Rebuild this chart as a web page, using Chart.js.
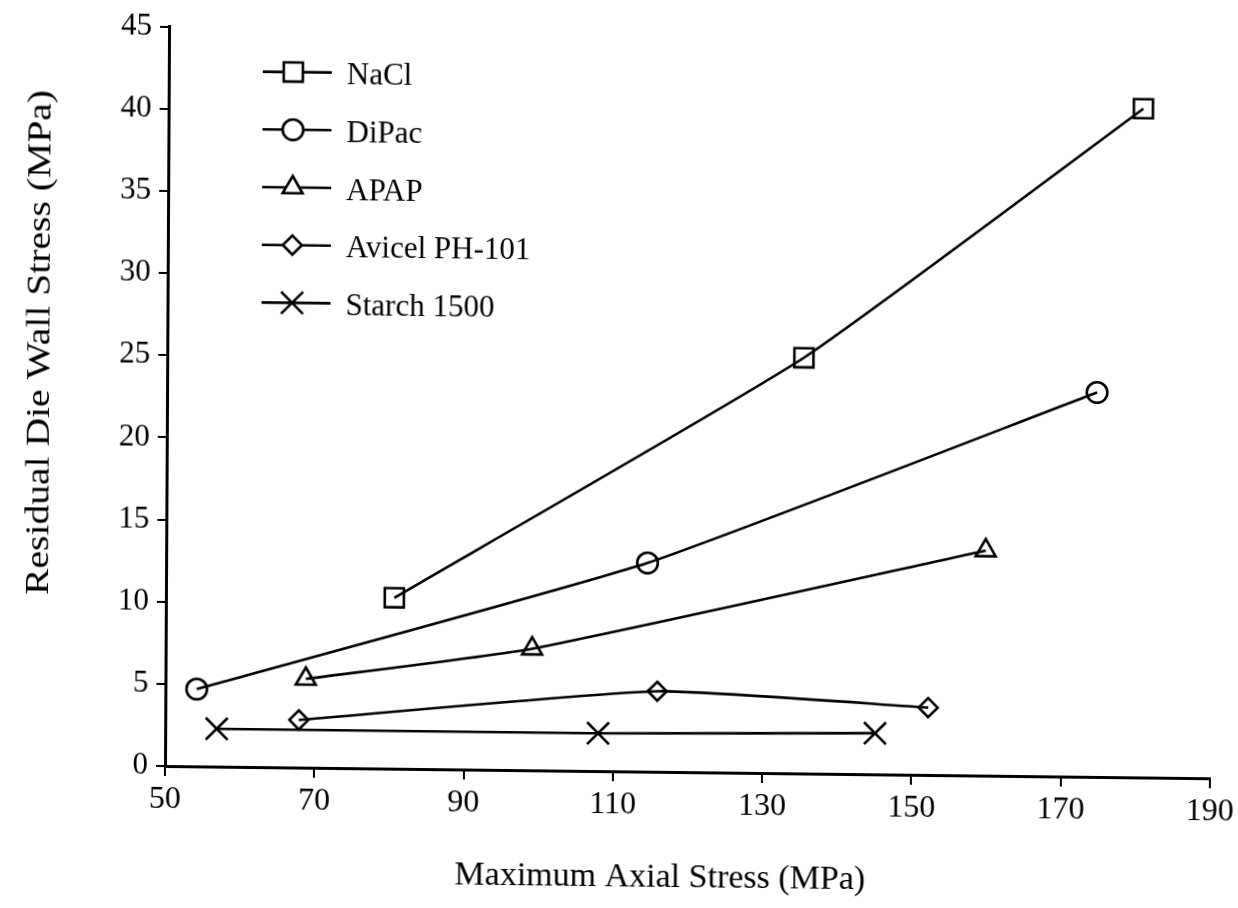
<!DOCTYPE html>
<html>
<head>
<meta charset="utf-8">
<title>Residual Die Wall Stress</title>
<script src="https://cdn.jsdelivr.net/npm/chart.js@4.4.1/dist/chart.umd.min.js"></script>
<style>
    html, body { margin: 0; padding: 0; background: #fff; }
    #wrap {
        position: relative;
        width: 1238px;
        height: 908px;
        /* the printed figure sits slightly askew on the page */
        transform-origin: 165px 766px;
        transform: matrix(1, 0.01175, -0.0055, 1, 0, 0);
    }
    canvas { display: block; }
</style>
</head>
<body>
<div id="wrap"><canvas id="chart" width="1238" height="908"></canvas></div>
<script>
// Series labels and marker shapes
const seriesNames = ['NaCl', 'DiPac', 'APAP', 'Avicel PH-101', 'Starch 1500'];
const markerStyles = ['rect', 'circle', 'triangle', 'rectRot', 'crossRot'];
const markerSizes = [13.5, 10.3, 11.5, 9.5, 15.5];

// Maximum axial stress (MPa)
const naclX = [80.6, 135.3, 180.6];
const dipacX = [54.2, 114.5, 174.6];
const apapX = [68.8, 99.1, 159.8];
const avicelX = [67.9, 115.9, 152.2];
const starchX = [56.9, 108.0, 145.1];

// Residual die wall stress (MPa)
const naclY = [10.4, 25.3, 40.7];
const dipacY = [4.7, 12.7, 23.4];
const apapY = [5.4, 7.4, 13.7];
const avicelY = [2.9, 4.9, 4.1];
const starchY = [2.3, 2.3, 2.5];

// Axis ticks
const xTicks = [50, 70, 90, 110, 130, 150, 170, 190];
const yTicks = [0, 5, 10, 15, 20, 25, 30, 35, 40, 45];

const xTitle = 'Maximum Axial Stress (MPa)';
const yTitle = 'Residual Die Wall Stress (MPa)';

const FONT = '"Liberation Serif", "Times New Roman", serif';

const allX = [naclX, dipacX, apapX, avicelX, starchX];
const allY = [naclY, dipacY, apapY, avicelY, starchY];

function toPoints(xs, ys) {
    return xs.map((x, i) => ({ x: x, y: ys[i] }));
}

const datasets = seriesNames.map((name, i) => ({
    label: name,
    data: toPoints(allX[i], allY[i]),
    borderColor: '#000',
    borderWidth: 2.6,
    tension: 0.15,
    fill: false,
    pointStyle: markerStyles[i],
    pointRadius: markerSizes[i],
    pointBorderWidth: 2.6,
    pointBorderColor: '#000',
    pointBackgroundColor: 'rgba(0, 0, 0, 0)'
}));

/**
 * Axis titles and the key, drawn straight onto the canvas
 */
const titlesAndKey = {
    id: 'titlesAndKey',
    afterDraw(chart) {
        const ctx = chart.ctx;
        const area = chart.chartArea;

        ctx.save();
        ctx.fillStyle = '#000';

        // x axis title
        ctx.font = '34px ' + FONT;
        ctx.textAlign = 'center';
        ctx.textBaseline = 'alphabetic';
        ctx.fillText(xTitle, (area.left + area.right) / 2 - 27, 881);

        // y axis title, stretched along its length
        ctx.save();
        ctx.translate(47, 344);
        ctx.rotate(-Math.PI / 2);
        ctx.font = '34px ' + FONT;
        const w = ctx.measureText(yTitle).width;
        ctx.scale(505 / w, 1);
        ctx.fillText(yTitle, 0, 0);
        ctx.restore();

        // key
        const rowTop = area.top + 44;
        const rowGap = 57.7;
        const lineStart = 259;
        const lineEnd = 328;
        const markX = 289.5;
        const textX = 343;

        ctx.font = '31px ' + FONT;
        ctx.textAlign = 'left';
        seriesNames.forEach((name, i) => {
            const y = rowTop + i * rowGap;

            ctx.strokeStyle = '#000';
            ctx.lineWidth = 2.6;
            ctx.beginPath();
            ctx.moveTo(lineStart, y);
            ctx.lineTo(lineEnd, y);
            ctx.stroke();

            ctx.fillStyle = '#fff';
            ctx.strokeStyle = '#000';
            ctx.lineWidth = 2.6;
            Chart.helpers.drawPoint(ctx, {
                pointStyle: markerStyles[i],
                radius: markerSizes[i],
                rotation: 0,
                borderWidth: 2.6
            }, markX, y);

            ctx.fillStyle = '#000';
            ctx.fillText(name, textX, y + 11.5);
        });

        ctx.restore();
    }
};

document.addEventListener('DOMContentLoaded', () => {
    const ctx = document.getElementById('chart').getContext('2d');

    new Chart(ctx, {
        type: 'line',
        data: { datasets: datasets },
        options: {
            responsive: false,
            animation: false,
            events: [],
            layout: { padding: { top: 24, right: 26, left: 0, bottom: 0 } },
            scales: {
                x: {
                    type: 'linear',
                    min: xTicks[0],
                    max: xTicks[xTicks.length - 1],
                    afterBuildTicks: (scale) => { scale.ticks = xTicks.map(v => ({ value: v })); },
                    afterFit: (scale) => { scale.height = 142; },
                    ticks: {
                        color: '#000',
                        font: { family: FONT, size: 32 },
                        padding: 4,
                        maxRotation: 0
                    },
                    grid: {
                        drawOnChartArea: false,
                        drawTicks: true,
                        tickLength: 10,
                        color: '#000',
                        lineWidth: 2
                    },
                    border: { display: true, color: '#000', width: 3 }
                },
                y: {
                    type: 'linear',
                    min: yTicks[0],
                    max: yTicks[yTicks.length - 1],
                    afterBuildTicks: (scale) => { scale.ticks = yTicks.map(v => ({ value: v })); },
                    afterFit: (scale) => { scale.width = 165; },
                    ticks: {
                        color: '#000',
                        font: { family: FONT, size: 31 },
                        padding: 8
                    },
                    grid: {
                        drawOnChartArea: false,
                        drawTicks: true,
                        tickLength: 9,
                        color: '#000',
                        lineWidth: 2
                    },
                    border: { display: true, color: '#000', width: 3 }
                }
            },
            plugins: {
                legend: { display: false },
                tooltip: { enabled: false },
                title: { display: false }
            }
        },
        plugins: [titlesAndKey]
    });
});
</script>
</body>
</html>
